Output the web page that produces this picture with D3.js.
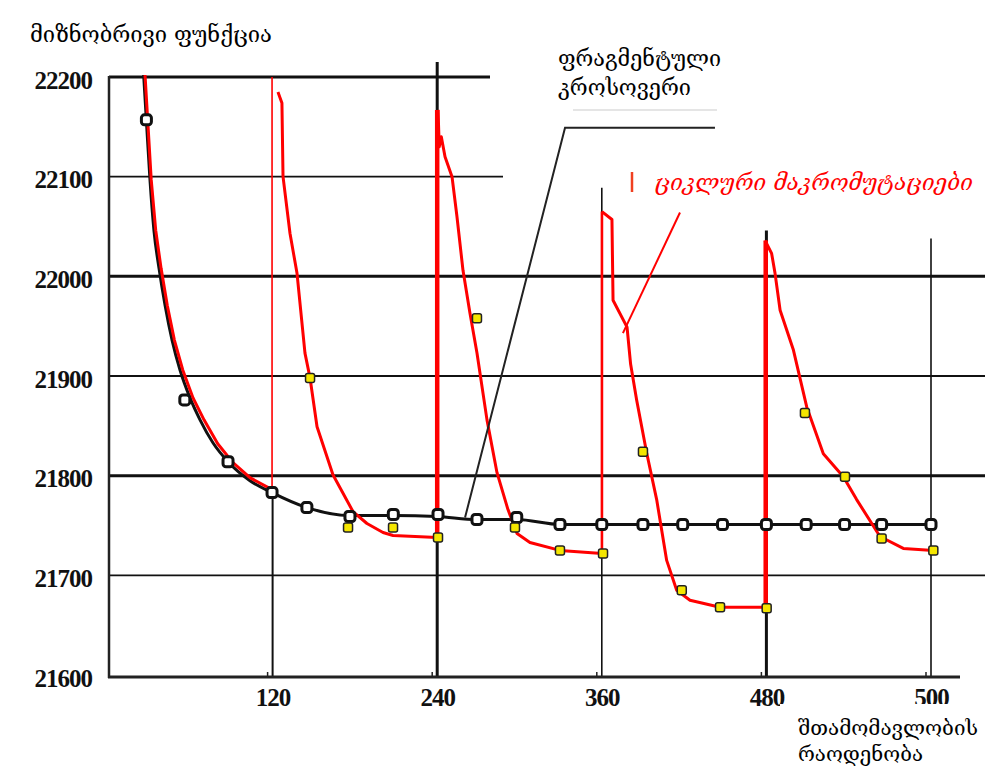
<!DOCTYPE html>
<html>
<head>
<meta charset="utf-8">
<script src="https://cdn.jsdelivr.net/npm/d3@7"></script>
<style>
  body { margin: 0; background: #fff; }
  svg { display: block; }
</style>
</head>
<body>
<div class="canvas"></div>
<script>
// ---- data ----
const yTicks = [21600, 21700, 21800, 21900, 22000, 22100, 22200];
const gridValues = [22200, 22100, 22000, 21900, 21800, 21700];
const xTicks = [120, 240, 360, 480, 600];
const xTickLabels = ["120", "240", "360", "480", "500"];

// main (black) run
const blackLine = [
  [26, 22202], [28, 22156], [30.6, 22097], [33.5, 22046], [37.2, 22008], [41.6, 21971],
  [46.7, 21936], [52.5, 21906], [59.8, 21878], [67.1, 21856], [76.5, 21833], [87.5, 21814],
  [103.5, 21795], [119.6, 21783], [145, 21768], [176, 21760], [208, 21760], [240, 21759],
  [269, 21756], [298, 21756], [330, 21751], [601, 21751]
];
const blackMarks = [
  [28, 22157], [56, 21876], [87.5, 21814], [119.6, 21783], [145, 21768], [176.4, 21759],
  [208, 21761], [240.6, 21761], [269, 21756], [298, 21758], [329.5, 21751], [360, 21751],
  [390, 21751], [419, 21751], [448, 21751], [480, 21751], [509, 21751], [537, 21751],
  [564, 21751], [600, 21751]
];

// cyclic macromutation (red) runs
const redCycle0 = [
  [27, 22202], [31.5, 22097], [34.8, 22046], [38.7, 22008], [43.2, 21971], [48.4, 21936],
  [54.5, 21906], [62, 21878], [70, 21856], [80, 21832], [91.1, 21813], [103.5, 21798],
  [119.6, 21786]
];
const redCycle1 = [
  [123.9, 22185], [126.8, 22174], [127.6, 22100], [132.7, 22043], [137.8, 22003],
  [143.6, 21923], [147.3, 21898], [152.4, 21849], [164, 21801], [178.6, 21764],
  [188.8, 21752], [200.5, 21743], [207.8, 21740], [239.9, 21738]
];
const redCycle2 = [
  [240.6, 22167], [241.5, 22130], [243, 22140], [245.7, 22120], [250.8, 22100],
  [254.4, 22060], [258.8, 22006], [263.9, 21963], [269, 21923], [276.3, 21856],
  [283.6, 21803], [291.6, 21766], [298.2, 21742], [307.6, 21733], [329.5, 21725], [360.1, 21722]
];
const redCycle3 = [
  [360.1, 22065], [367.4, 22057], [368.2, 21976], [378.4, 21949], [381, 21912],
  [385.4, 21876], [392.7, 21823], [400, 21776], [407.3, 21715], [414.6, 21685],
  [424.3, 21675], [446.2, 21668], [480.4, 21668]
];
const redCycle4 = [
  [479, 22036], [483.8, 22023], [486.3, 22003], [490, 21966], [499.7, 21926],
  [509.4, 21869], [521.5, 21822], [536.1, 21799], [545.8, 21776], [562.8, 21739],
  [579.8, 21727], [601.7, 21725]
];
const yellowMarks = [
  [147.3, 21898], [175, 21748], [207.8, 21748], [240.6, 21738],
  [269, 21958], [296.7, 21748], [329.5, 21725], [360.9, 21722],
  [390, 21824], [418.3, 21685], [446.2, 21668], [480.2, 21667],
  [508.1, 21863], [537.3, 21799], [564, 21737], [601.7, 21725]
];

// restart points: red jump (from, to) and black drop line tops
const spikeX = [119.6, 240, 360.1, 479.5];
const spikeFrom = [21786, 21738, 21722, 21668];
const spikeTo = [22200, 22167, 22065, 22036];
const dropX = [120, 240, 360, 480, 600];
const dropTop = [21784, 22215, 22089, 22046, 22038];

// annotation pointers
const crossoverPointer = [[260.3, 21758], [333.2, 22149], [442.5, 22149]];
const macroPointer = [[375.4, 21943], [417, 22064]];

// ---- layout ----
const width = 988, height = 769;

const svg = d3.select(".canvas")
  .append("svg")
  .attr("width", width)
  .attr("height", height);

const x = d3.scaleLinear().domain([0, 600]).range([108, 931]);
const y = d3.scaleLinear().domain([21600, 22200]).range([675, 77]);

const line = d3.line().x((d) => x(d[0])).y((d) => y(d[1]));

// horizontal grid (some are cut short by the label box)
const gridWidth = { 22200: 3, 22100: 1.6, 22000: 3, 21900: 2, 21800: 3, 21700: 1.6 };
const gridEnd = { 22200: 490, 22100: 503 };
svg.append("g")
  .selectAll("line")
  .data(gridValues)
  .join("line")
  .attr("x1", 109)
  .attr("x2", (d) => gridEnd[d] || 985)
  .attr("y1", (d) => y(d))
  .attr("y2", (d) => y(d))
  .attr("stroke", "#111")
  .attr("stroke-width", (d) => gridWidth[d]);

// black drop lines at every restart
const dropWidth = [2, 3, 1.6, 3, 1.6];
svg.append("g")
  .selectAll("line")
  .data(dropX)
  .join("line")
  .attr("x1", (d) => x(d))
  .attr("x2", (d) => x(d))
  .attr("y1", (d, i) => y(dropTop[i]))
  .attr("y2", y(21600) + 2)
  .attr("stroke", "#111")
  .attr("stroke-width", (d, i) => dropWidth[i]);

// axes lines
svg.append("line")
  .attr("x1", 109).attr("x2", 109)
  .attr("y1", 76).attr("y2", y(21600) + 3)
  .attr("stroke", "#222").attr("stroke-width", 2.5);
svg.append("line")
  .attr("x1", 108).attr("x2", 960)
  .attr("y1", y(21600) + 2).attr("y2", y(21600) + 2)
  .attr("stroke", "#222").attr("stroke-width", 3);

// small ticks on bottom axis
svg.append("g")
  .selectAll("line")
  .data(xTicks)
  .join("line")
  .attr("x1", (d) => x(d) - 5)
  .attr("x2", (d) => x(d) - 5)
  .attr("y1", y(21600) - 3)
  .attr("y2", y(21600) + 2)
  .attr("stroke", "#222")
  .attr("stroke-width", 1.5);

// black run
svg.append("path")
  .datum(blackLine)
  .attr("fill", "none")
  .attr("stroke", "#111")
  .attr("stroke-width", 3)
  .attr("stroke-linejoin", "round")
  .attr("d", line.curve(d3.curveMonotoneX));

// red jumps
const spikeWidth = [1.6, 4.5, 2.6, 4.5];
svg.append("g")
  .selectAll("line")
  .data(spikeX)
  .join("line")
  .attr("x1", (d) => x(d))
  .attr("x2", (d) => x(d))
  .attr("y1", (d, i) => y(spikeFrom[i]))
  .attr("y2", (d, i) => y(spikeTo[i]))
  .attr("stroke", "#ff0000")
  .attr("stroke-width", (d, i) => spikeWidth[i]);

// red runs
const redLine = d3.line().x((d) => x(d[0])).y((d) => y(d[1]));
svg.append("g")
  .selectAll("path")
  .data([redCycle0, redCycle1, redCycle2, redCycle3, redCycle4])
  .join("path")
  .attr("fill", "none")
  .attr("stroke", "#ff0000")
  .attr("stroke-width", 3)
  .attr("stroke-linejoin", "round")
  .attr("d", redLine);

// markers
svg.append("g")
  .selectAll("rect")
  .data(blackMarks)
  .join("rect")
  .attr("x", (d) => x(d[0]) - 5)
  .attr("y", (d) => y(d[1]) - 5)
  .attr("width", 10)
  .attr("height", 10)
  .attr("rx", 3)
  .attr("fill", "#fff")
  .attr("stroke", "#111")
  .attr("stroke-width", 3);

svg.append("g")
  .selectAll("rect")
  .data(yellowMarks)
  .join("rect")
  .attr("x", (d) => x(d[0]) - 4.5)
  .attr("y", (d) => y(d[1]) - 4.5)
  .attr("width", 9)
  .attr("height", 9)
  .attr("rx", 2)
  .attr("fill", "#f5e600")
  .attr("stroke", "#222")
  .attr("stroke-width", 1.5);

// pointers
svg.append("path")
  .datum(crossoverPointer)
  .attr("fill", "none")
  .attr("stroke", "#222")
  .attr("stroke-width", 2)
  .attr("d", d3.line().x((d) => x(d[0])).y((d) => y(d[1])));
svg.append("path")
  .datum(macroPointer)
  .attr("fill", "none")
  .attr("stroke", "#ff0000")
  .attr("stroke-width", 2)
  .attr("d", d3.line().x((d) => x(d[0])).y((d) => y(d[1])));

// tick labels
const yAxis = svg.append("g")
  .attr("transform", "translate(109,3)")
  .call(d3.axisLeft(y).tickValues(yTicks).tickSize(0).tickPadding(17).tickFormat(d3.format("d")));
yAxis.select(".domain").remove();
yAxis.selectAll("text")
  .attr("font-family", "'Liberation Serif', serif")
  .attr("font-weight", "bold")
  .attr("font-size", 25)
  .attr("letter-spacing", -1)
  .attr("fill", "#111");

const xAxis = svg.append("g")
  .attr("transform", `translate(0,${y(21600) + 9})`)
  .call(d3.axisBottom(x).tickValues(xTicks).tickSize(0).tickPadding(4)
    .tickFormat((d, i) => xTickLabels[i]));
xAxis.select(".domain").remove();
xAxis.selectAll("text")
  .attr("font-family", "'Liberation Serif', serif")
  .attr("font-weight", "bold")
  .attr("font-size", 25)
  .attr("letter-spacing", -1)
  .attr("fill", "#111");

// label boxes and texts
const geoFont = "'DejaVu Serif', 'DejaVu Sans', serif";

svg.append("rect").attr("x", 0).attr("y", 0).attr("width", 305).attr("height", 68).attr("fill", "#fff");
svg.append("text")
  .attr("x", 30).attr("y", 42)
  .attr("font-family", geoFont).attr("font-size", 22)
  .attr("textLength", 242).attr("lengthAdjust", "spacingAndGlyphs")
  .text("მიზნობრივი ფუნქცია");

svg.append("line")
  .attr("x1", 573).attr("x2", 717).attr("y1", 110).attr("y2", 110)
  .attr("stroke", "#ddd").attr("stroke-width", 1.5);
svg.append("text")
  .attr("x", 558).attr("y", 66)
  .attr("font-family", geoFont).attr("font-size", 22)
  .attr("textLength", 163).attr("lengthAdjust", "spacingAndGlyphs")
  .text("ფრაგმენტული");
svg.append("text")
  .attr("x", 558).attr("y", 95)
  .attr("font-family", geoFont).attr("font-size", 22)
  .attr("textLength", 133).attr("lengthAdjust", "spacingAndGlyphs")
  .text("კროსოვერი");

svg.append("line")
  .attr("x1", 632).attr("x2", 632).attr("y1", 172).attr("y2", 192)
  .attr("stroke", "#f04020").attr("stroke-width", 2.5);
svg.append("text")
  .attr("x", 655).attr("y", 190)
  .attr("font-family", geoFont).attr("font-size", 22)
  .attr("font-style", "italic")
  .attr("fill", "#ff0000")
  .attr("textLength", 318).attr("lengthAdjust", "spacingAndGlyphs")
  .text("ციკლური მაკრომუტაციები");

svg.append("rect").attr("x", 780).attr("y", 704).attr("width", 208).attr("height", 65).attr("fill", "#fff");
svg.append("text")
  .attr("x", 798).attr("y", 735)
  .attr("font-family", geoFont).attr("font-size", 21)
  .attr("textLength", 180).attr("lengthAdjust", "spacingAndGlyphs")
  .text("შთამომავლობის");
svg.append("text")
  .attr("x", 798).attr("y", 761)
  .attr("font-family", geoFont).attr("font-size", 21)
  .attr("textLength", 125).attr("lengthAdjust", "spacingAndGlyphs")
  .text("რაოდენობა");
</script>
</body>
</html>
